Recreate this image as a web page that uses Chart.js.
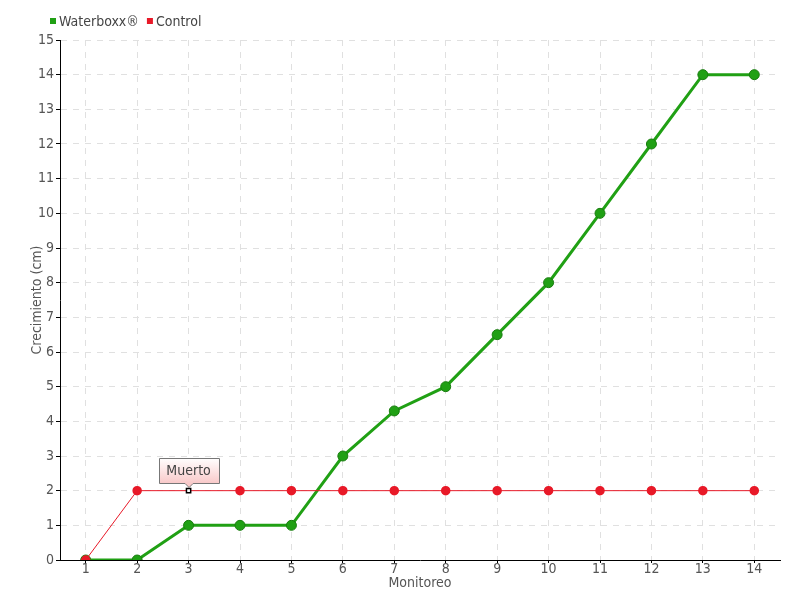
<!DOCTYPE html>
<html><head><meta charset="utf-8">
<script src="https://cdn.jsdelivr.net/npm/chart.js@4"></script>
<style>html,body{margin:0;padding:0;background:#fff}#wrap{width:800px;height:600px}</style>
</head><body><div id="wrap"><canvas id="c" width="800" height="600"></canvas></div>
<script>
const categories = ['1','2','3','4','5','6','7','8','9','10','11','12','13','14'];
const waterboxx = [0,0,1,1,1,3,4.3,5,6.5,8,10,12,14,14];
const control = [0,2,2,2,2,2,2,2,2,2,2,2,2,2];
const seriesNames = ['Waterboxx®','Control'];
const noteIndex = 2;
const noteText = 'Muerto';
const yTitle = 'Crecimiento (cm)';
const xTitle = 'Monitoreo';

const FAMILY = "'DejaVu Sans',sans-serif";
const STRETCH = 'condensed';
const FONTSTR = (s)=> 'normal ' + STRETCH + ' ' + s + 'px ' + FAMILY;
const F = (s)=>({family:FAMILY, size:s, weight:STRETCH});
const green = 'rgb(32,160,20)';
const red = 'rgb(232,25,40)';
const txt = '#555';

const ctrlRadius = control.map((v,i)=> i===noteIndex ? 3 : 4);
const ctrlStyle = control.map((v,i)=> i===noteIndex ? 'rect' : 'circle');
const ctrlBg = control.map((v,i)=> i===noteIndex ? '#fff' : red);
const ctrlBorder = control.map((v,i)=> i===noteIndex ? '#000' : red);

const legendPlugin = {
  id:'customLegend',
  afterDraw(chart){
    const ctx = chart.ctx;
    ctx.save();
    ctx.font = FONTSTR(14);
    ctx.textBaseline = 'middle'; ctx.textAlign = 'left';
    let x = 50; const y = 21;
    chart.data.datasets.forEach(ds=>{
      ctx.fillStyle = ds.borderColor;
      ctx.fillRect(x, y-3, 6, 6);
      x += 9;
      ctx.fillStyle = '#444';
      ctx.fillText(ds.label, x, y+1);
      x += ctx.measureText(ds.label).width + 8;
    });
    ctx.restore();
  }
};

const notePlugin = {
  id:'note',
  afterDatasetsDraw(chart){
    const ctx = chart.ctx;
    const x = chart.scales.x.getPixelForValue(noteIndex);
    const y = chart.scales.y.getPixelForValue(control[noteIndex]);
    const w = 60, h = 25, bottom = Math.round(y - 8), top = bottom - h;
    const left = Math.round(x - 30);
    ctx.save();
    const g = ctx.createLinearGradient(0, top, 0, bottom);
    g.addColorStop(0,'#ffffff'); g.addColorStop(1,'#f9caca');
    ctx.beginPath();
    ctx.moveTo(left+0.5, top+0.5);
    ctx.lineTo(left+w+0.5, top+0.5);
    ctx.lineTo(left+w+0.5, bottom+0.5);
    ctx.lineTo(x+4.5, bottom+0.5);
    ctx.lineTo(x+0.5, bottom+4.5);
    ctx.lineTo(x-3.5, bottom+0.5);
    ctx.lineTo(left+0.5, bottom+0.5);
    ctx.closePath();
    ctx.fillStyle = g; ctx.fill();
    ctx.strokeStyle = '#777'; ctx.lineWidth = 1; ctx.stroke();
    ctx.fillStyle = '#444';
    ctx.font = FONTSTR(14);
    ctx.textAlign = 'center'; ctx.textBaseline = 'middle';
    ctx.fillText(noteText, x, top + h/2 + 1);
    ctx.restore();
  }
};

new Chart(document.getElementById('c'), {
  type:'line',
  data:{
    labels: categories,
    datasets:[
      {label: seriesNames[0], data: waterboxx, borderColor: green, backgroundColor: green,
       borderWidth: 3, pointRadius: 5, pointBackgroundColor: green, pointBorderColor: 'rgb(25,125,15)',
       pointBorderWidth: 1, order: 2},
      {label: seriesNames[1], data: control, borderColor: red, backgroundColor: red,
       borderWidth: 1, pointRadius: ctrlRadius, pointStyle: ctrlStyle, pointBackgroundColor: ctrlBg,
       pointBorderColor: ctrlBorder, pointBorderWidth: 1.5, order: 1}
    ]
  },
  options:{
    responsive:false, animation:false,
    layout:{padding:{left:0,right:20,top:40,bottom:0}},
    plugins:{ legend:{display:false}, tooltip:{enabled:false} },
    scales:{
      x:{offset:true,
        grid:{color:'#e0e0e0', offset:false, tickColor:'#000', tickLength:3},
        border:{color:'#000', width:1, dash:[6,6]},
        ticks:{color:txt, font:F(14), padding:-2},
        title:{display:true, text:xTitle, color:txt, font:F(14), padding:{top:0,bottom:8}},
        afterFit(s){ s.height = 40; }
      },
      y:{min:0, max:15,
        grid:{color:'#e0e0e0', tickColor:'#000', tickLength:4},
        border:{color:'#000', width:1, dash:[6,6]},
        ticks:{stepSize:1, color:txt, font:F(14), padding:2},
        title:{display:true, text:yTitle, color:txt, font:F(14), padding:{top:29,bottom:0}},
        afterFit(s){ s.width = 60; }
      }
    }
  },
  plugins:[notePlugin, legendPlugin]
});
</script></body></html>
